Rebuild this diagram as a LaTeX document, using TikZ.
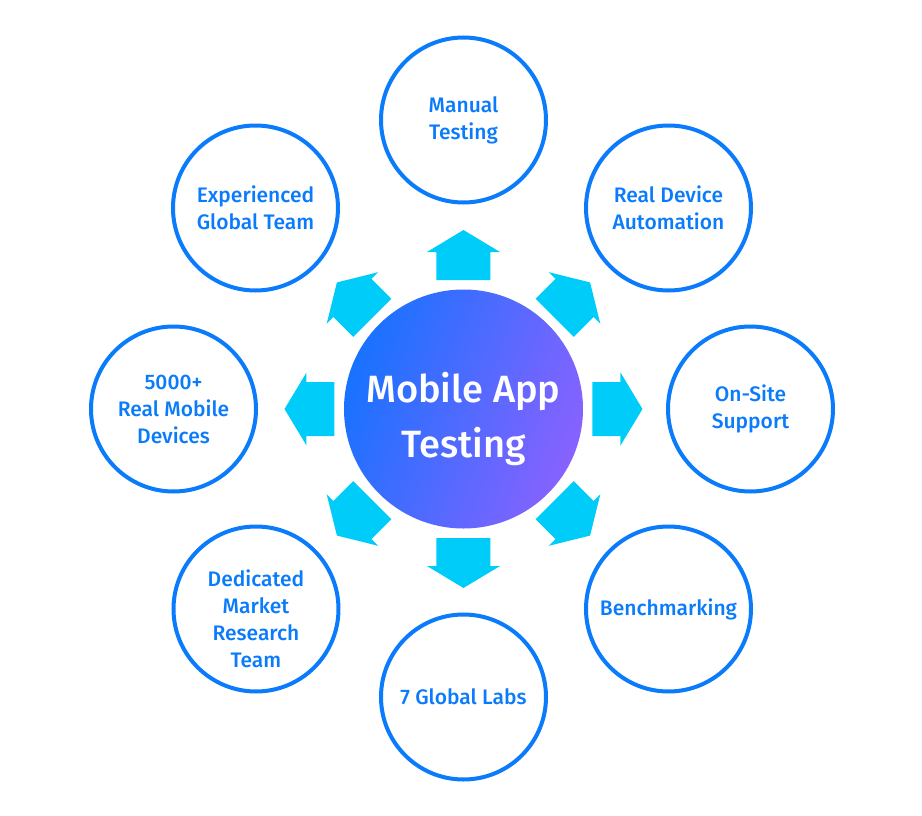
\documentclass[tikz,border=0pt]{standalone}
\usepackage{fontspec}
\setmainfont{Fira Sans}[UprightFont=* Medium]
\definecolor{ringblue}{HTML}{0A7BFA}
\definecolor{arrowcyan}{HTML}{00CCF9}
\definecolor{hubleft}{HTML}{1872FF}
\definecolor{hubright}{HTML}{8862FF}

\begin{document}
\begin{tikzpicture}[x=1pt,y=1pt,
  topictext/.style={align=center,text=ringblue,font=\fontsize{21}{27}\selectfont},
  topic/.style={circle,draw=ringblue,line width=4pt,minimum size=165pt,
    inner sep=0pt,topictext},
  hub/.style={circle,minimum size=239pt,inner sep=0pt,
    left color=hubleft,right color=hubright,shading angle=70},
  hubtext/.style={align=center,text=white,font=\fontsize{38}{55}\selectfont}]
\useasboundingbox (-463.5,-406) rectangle (458.5,409);
% ---------- centre ----------
\node[hub] (hub) at (0,0) {};
\node[hubtext] (title) at ([yshift=-10]hub.center) {Mobile App\\Testing};
% ---------- block arrows, one every 45 degrees ----------
\foreach \a in {0,45,...,315}
  \fill[arrowcyan,rotate=\a] (129,-27) -- (157,-27) -- (157,-36.5)
    -- (179,0) -- (157,36.5) -- (157,27) -- (129,27) -- cycle;
% ---------- outer ring ----------
\node[topic] (manual)     at (0,289)      {Manual\\Testing};
\node[topic] (automation) at (205,201)    {Real Device\\Automation};
\node[topic] (onsite)     at (287,0)      {On-Site\\Support};
\node[topic] (bench)      at (205,-200)   {Benchmarking};
\node[topic] (labs)       at (0,-288)     {7 Global Labs};
\node[topic] (research)   at (-207.5,-200) {};
\node[topictext] (researchtext) at ([yshift=-9.5]research.center)
  {Dedicated\\Market\\Research\\Team};
\node[topic] (devices)    at (-290,0)     {5000+\\Real Mobile\\Devices};
\node[topic] (team)       at (-208,201)   {Experienced\\Global Team};
\end{tikzpicture}
\end{document}
